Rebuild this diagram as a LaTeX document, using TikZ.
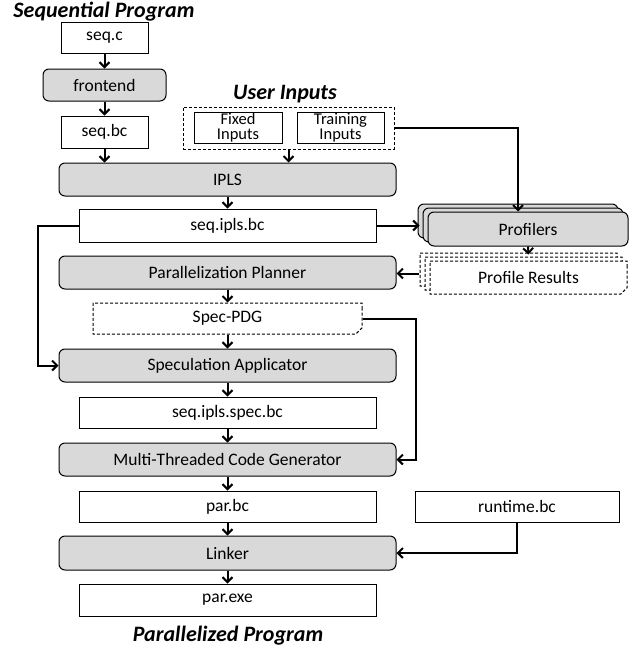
\documentclass[tikz,border=0pt]{standalone}
\usepackage{fontspec}
\setmainfont{Carlito}
\usetikzlibrary{arrows.meta,shapes.misc,shadows}

\tikzset{
  file/.style={draw, fill=white, line width=1pt, inner sep=0pt,
    minimum width=297pt, minimum height=32pt, font=\fontsize{17.5}{19}\selectfont},
  pass/.style={file, fill=gray!30, rounded corners=6pt, minimum width=337pt, minimum height=33pt},
  specfile/.style={file, dash pattern=on 3pt off 2pt, chamfered rectangle,
    chamfered rectangle corners=south east, chamfered rectangle xsep=3pt},
  inbox/.style={file, align=center, minimum width=88pt, minimum height=31pt,
    font=\fontsize{16.5}{15}\selectfont},
  stack/.style={copy shadow={shadow xshift=-10pt, shadow yshift=8pt, #1},
    copy shadow={shadow xshift=-5pt, shadow yshift=4pt, #1}},
  title/.style={font=\fontsize{22}{24}\selectfont\bfseries\itshape},
  flow/.style={line width=2pt, -{Straight Barb[length=5pt,width=10pt]}},
}

\begin{document}
\begin{tikzpicture}[x=1pt, y=-1pt]
  \useasboundingbox (0,0) rectangle (641,648);

  % titles
  \node[title] (tseq) at (104,12) {Sequential Program};
  \node[title] (tuser) at (285,94) {User Inputs};
  \node[title] (tpar) at (228,636) {Parallelized Program};

  % sequential front end
  \node[file, minimum width=87pt, minimum height=31pt] (seqc) at (104.5,37.5) {seq.c};
  \node[pass, minimum width=123pt, minimum height=32pt] (frontend) at (104.5,85) {frontend};
  \node[file, minimum width=87pt] (seqbc) at (104.5,132) {seq.bc};

  % user inputs
  \node[file, minimum width=211pt, minimum height=42pt, dash pattern=on 3pt off 2pt] (inputs) at (288.5,128) {};
  \node[inbox] (fixed) at (238,127.5) {Fixed\\Inputs};
  \node[inbox, minimum width=87pt] (training) at (340.5,127.5) {Training\\Inputs};

  % main column
  \node[pass] (ipls) at (227.5,179.5) {IPLS};
  \node[file, minimum height=33pt] (iplsbc) at (227.5,225.5) {seq.ipls.bc};
  \node[pass] (planner) at (227.5,272.5) {Parallelization Planner};
  \node[specfile, minimum width=269pt, minimum height=31pt] (specpdg) at (227.5,318.5) {Spec-PDG};
  \node[pass] (specapp) at (227.5,365.5) {Speculation Applicator};
  \node[file, minimum height=31pt] (specbc) at (227.5,412.5) {seq.ipls.spec.bc};
  \node[pass] (mtcg) at (227.5,459.5) {Multi-Threaded Code Generator};
  \node[file, minimum height=31pt] (parbc) at (227.5,506.5) {par.bc};
  \node[pass, minimum height=34pt] (linker) at (227.5,553) {Linker};
  \node[file] (parexe) at (227.5,600) {par.exe};

  % profiling side
  \node[pass, minimum width=200pt, minimum height=34pt,
    stack={fill=gray!30, draw=black}] (profilers) at (528,229) {Profilers};
  \node[specfile, minimum width=197pt, minimum height=33pt,
    stack={fill=white, draw=black, dash pattern=on 3pt off 2pt}] (profres) at (528.5,277.5) {Profile Results};
  \node[file, minimum width=204pt, minimum height=31pt] (runtime) at (517,506.5) {runtime.bc};

  % flow
  \draw[flow] (seqc) -- (frontend);
  \draw[flow] (frontend) -- (seqbc);
  \draw[flow] (seqbc.south) -- (seqbc.south |- ipls.north);
  \draw[flow] (inputs.south) -- (inputs.south |- ipls.north);
  \draw[flow] (inputs.east) -| ([xshift=-10pt]profilers.north);
  \draw[flow] (ipls) -- (iplsbc);
  \draw[flow] (iplsbc.east) -- ++(43,0);
  \draw[flow] (profilers.south) -- ([yshift=6pt]profres.north);
  \draw[flow] ([xshift=-11pt,yshift=4pt]profres.west) -- ([yshift=4pt]profres.west -| planner.east);
  \draw[flow] (iplsbc.west) -- ++(-41,0) |- (specapp.west);
  \draw[flow] (planner) -- (specpdg);
  \draw[flow] (specpdg) -- (specapp);
  \draw[flow] (specpdg.east) -- ++(53,0) |- (mtcg.east);
  \draw[flow] (specapp) -- (specbc);
  \draw[flow] (specbc) -- (mtcg);
  \draw[flow] (mtcg) -- (parbc);
  \draw[flow] (parbc) -- (linker);
  \draw[flow] (runtime.south) |- (linker.east);
  \draw[flow] (linker) -- (parexe);
\end{tikzpicture}
\end{document}
